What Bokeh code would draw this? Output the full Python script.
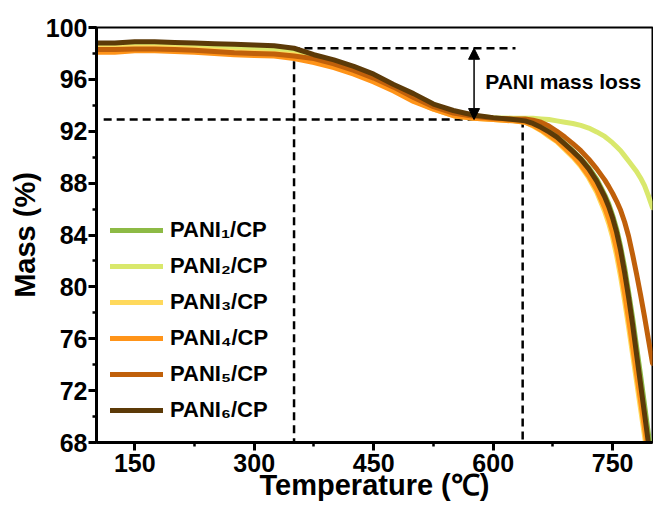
from bokeh.plotting import figure
from bokeh.models import (SingleIntervalTicker, Range1d, Legend, LegendItem, Arrow,
                          NormalHead, Label, ColumnDataSource)
from bokeh.embed import file_html
from bokeh.resources import INLINE

# ---------------- data ----------------
temperature = [100, 125, 150, 175, 200, 225, 250, 275, 300, 325, 350,
               375, 400, 425, 450, 475, 500, 525, 550, 575, 600, 625,
               640, 650, 660, 670, 680, 690, 700, 710, 720, 730, 740,
               745, 750, 755, 760, 765, 770, 775, 780, 785, 790, 795, 800]

pani1 = [98.5, 98.5, 98.6, 98.6, 98.55, 98.5, 98.45, 98.4, 98.35, 98.3, 98.15,
         97.7, 97.3, 96.8, 96.2, 95.4, 94.7, 93.9, 93.4, 93.1, 93.0, 92.9,
         92.8, 92.6, 92.35, 92.0, 91.6, 91.05, 90.5, 89.9, 89.2, 88.3, 87.1,
         86.4, 85.5, 84.45, 83.1, 81.5, 79.6, 77.6, 75.4, 73.2, 70.9, 68.6, 66.3]
pani2 = [98.6, 98.6, 98.65, 98.65, 98.6, 98.55, 98.5, 98.45, 98.4, 98.35, 98.2,
         97.8, 97.4, 96.9, 96.3, 95.5, 94.8, 94.0, 93.5, 93.2, 93.05, 93.0,
         93.0, 93.0, 92.95, 92.9, 92.8, 92.7, 92.6, 92.45, 92.25, 91.95, 91.6,
         91.35, 91.1, 90.8, 90.5, 90.1, 89.7, 89.3, 88.9, 88.4, 87.8, 87.0, 86.1]
pani3 = [98.4, 98.4, 98.45, 98.45, 98.4, 98.35, 98.25, 98.15, 98.1, 98.0, 97.9,
         97.5, 97.1, 96.6, 96.0, 95.2, 94.4, 93.7, 93.2, 93.0, 92.9, 92.8,
         92.7, 92.4, 92.05, 91.6, 91.2, 90.6, 90.0, 89.3, 88.4, 87.3, 85.8,
         84.9, 83.8, 82.4, 80.75, 78.9, 76.9, 74.8, 72.7, 70.6, 68.5, 66.4, 64.3]
pani4 = [98.1, 98.1, 98.2, 98.2, 98.15, 98.1, 98.0, 97.9, 97.85, 97.8, 97.6,
         97.3, 96.9, 96.4, 95.8, 95.1, 94.3, 93.7, 93.2, 93.0, 92.9, 92.8,
         92.7, 92.45, 92.1, 91.7, 91.25, 90.7, 90.1, 89.4, 88.55, 87.5, 86.1,
         85.25, 84.2, 82.9, 81.3, 79.5, 77.5, 75.4, 73.3, 71.2, 69.1, 67.0, 64.9]
pani5 = [98.3, 98.3, 98.35, 98.35, 98.3, 98.25, 98.15, 98.05, 98.0, 97.95, 97.8,
         97.6, 97.2, 96.7, 96.1, 95.4, 94.6, 93.9, 93.4, 93.15, 93.0, 92.95,
         92.95, 92.85, 92.7, 92.4, 92.0, 91.55, 91.05, 90.5, 89.85, 89.1, 88.25,
         87.75, 87.2, 86.6, 85.9, 85.0, 83.9, 82.5, 81.0, 79.4, 77.7, 75.9, 74.1]
pani6 = [98.8, 98.8, 98.9, 98.9, 98.85, 98.8, 98.75, 98.7, 98.65, 98.6, 98.4,
         97.9, 97.5, 97.0, 96.4, 95.6, 94.9, 94.1, 93.6, 93.25, 93.05, 92.9,
         92.8, 92.6, 92.3, 91.95, 91.55, 91.0, 90.45, 89.85, 89.1, 88.15, 86.95,
         86.2, 85.3, 84.2, 82.8, 81.1, 79.2, 77.1, 74.8, 72.5, 70.2, 67.9, 65.6]

series_labels = ["PANI\u2081/CP", "PANI\u2082/CP", "PANI\u2083/CP",
                 "PANI\u2084/CP", "PANI\u2085/CP", "PANI\u2086/CP"]
series_values = [pani1, pani2, pani3, pani4, pani5, pani6]
series_colors = ["#8DBA45", "#D9E86C", "#FFD95C", "#FF9419", "#C0600A", "#5C3A08"]

# guide lines: mass before / after PANI loss, onset temperatures
mass_before = 98.4
mass_after = 92.9
onset_temp = 350
end_temp = 637
upper_guide_end = 628
lower_guide_start = 111
arrow_temp = 576
annotation_text = "PANI mass loss"
annotation_pos = (590, 95.85)

x_min, x_max = 102, 800
y_min, y_max = 68, 100

FONT = "Liberation Sans"

p = figure(width=653, height=515, x_range=Range1d(x_min, x_max),
           y_range=Range1d(y_min, y_max), output_backend="svg",
           toolbar_location=None, min_border_left=96, min_border_right=1,
           min_border_top=27, min_border_bottom=73,
           background_fill_color="white", border_fill_color="white")

p.xgrid.visible = False
p.ygrid.visible = False
p.outline_line_color = "black"
p.outline_line_width = 2
p.outline_line_alpha = 1

p.xaxis.ticker = SingleIntervalTicker(interval=150, num_minor_ticks=2)
p.yaxis.ticker = SingleIntervalTicker(interval=4, num_minor_ticks=2)

for ax in (p.xaxis, p.yaxis):
    ax.axis_line_width = 3
    ax.axis_line_color = "black"
    ax.major_tick_line_width = 3
    ax.minor_tick_line_width = 2.5
    ax.major_tick_line_color = "black"
    ax.minor_tick_line_color = "black"
    ax.major_tick_out = 8
    ax.major_tick_in = 0
    ax.minor_tick_out = 4
    ax.minor_tick_in = 0
    ax.major_label_text_font = FONT
    ax.major_label_text_font_style = "bold"
    ax.major_label_text_font_size = "25px"
    ax.major_label_text_color = "black"
    ax.axis_label_text_font = FONT
    ax.axis_label_text_font_style = "bold"
    ax.axis_label_text_font_size = "29px"
    ax.axis_label_text_color = "black"

p.xaxis.axis_label = "Temperature (\u2103)"
p.yaxis.axis_label = "Mass (%)"
p.xaxis.major_label_standoff = 3
p.yaxis.major_label_standoff = 1
p.xaxis.axis_label_standoff = -6
p.yaxis.axis_label_standoff = 2

# guide dashed lines
guides = ColumnDataSource(dict(
    x0=[x_min, lower_guide_start, onset_temp, end_temp],
    y0=[mass_before, mass_after, mass_before, mass_after],
    x1=[upper_guide_end, end_temp, onset_temp, end_temp],
    y1=[mass_before, mass_after, y_min, y_min],
))
p.segment(x0="x0", y0="y0", x1="x1", y1="y1", source=guides,
          line_color="black", line_width=2.5, line_dash="8 5")

items = []
for lab, vals, col in zip(series_labels, series_values, series_colors):
    r = p.line(temperature, vals, line_color=col, line_width=5,
               line_cap="round", line_join="round")
    items.append(LegendItem(label=lab, renderers=[r]))

p.add_layout(Arrow(x_start=arrow_temp, y_start=mass_after, x_end=arrow_temp,
                   y_end=mass_before, line_width=1.5, line_color="black",
                   start=NormalHead(size=11, fill_color="black", line_color="black"),
                   end=NormalHead(size=11, fill_color="black", line_color="black")))

p.add_layout(Label(x=annotation_pos[0], y=annotation_pos[1], text=annotation_text,
                   text_font=FONT, text_font_style="bold", text_font_size="21px",
                   text_baseline="middle", text_align="left", text_color="black"))

legend = Legend(items=items, location=(14, 17), padding=0, margin=0,
                spacing=6, glyph_width=53, glyph_height=30, label_height=30,
                label_standoff=7, label_text_font=FONT,
                label_text_font_style="bold", label_text_font_size="22px",
                label_text_color="black", background_fill_alpha=0,
                border_line_alpha=0)
p.add_layout(legend)

open("out.html", "w").write(file_html(p, INLINE))
